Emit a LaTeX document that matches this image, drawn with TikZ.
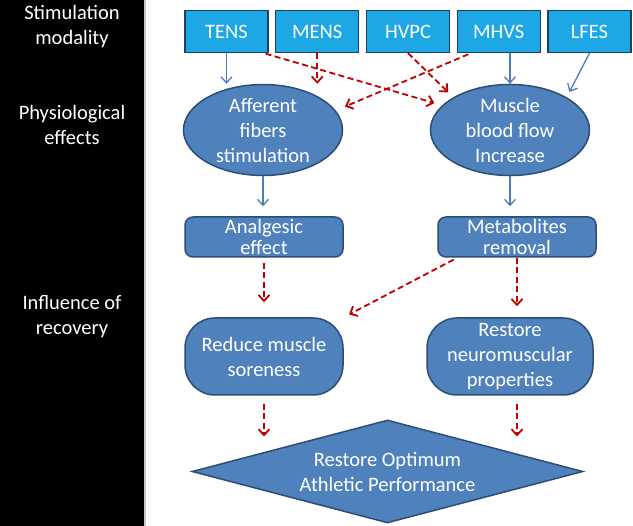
\documentclass[tikz,border=0pt]{standalone}
\usepackage{fontspec}
\setmainfont{Carlito}
\usetikzlibrary{shapes.geometric,arrows.meta}
\definecolor{modcyan}{HTML}{1DA7E5}
\definecolor{modedge}{HTML}{1F3F66}
\definecolor{effblue}{HTML}{4F81BD}
\definecolor{effedge}{HTML}{2C4D75}
\definecolor{linkblue}{HTML}{4A7EBB}
\definecolor{linkred}{HTML}{C00000}

\begin{document}
\begin{tikzpicture}[x=1pt, y=-1pt, node distance=90.75pt,
  font=\fontsize{20.5}{25}\selectfont,
  modbox/.style={draw=modedge, line width=1.2pt, fill=modcyan, text=white,
    minimum width=83pt, minimum height=42pt, inner sep=0pt},
  effoval/.style={ellipse, draw=effedge, line width=1.5pt, fill=effblue, text=white,
    align=center, minimum width=159pt, minimum height=90pt, inner sep=0pt},
  resbox/.style={draw=effedge, line width=1.5pt, fill=effblue, text=white, align=center,
    rounded corners=8pt, minimum width=158pt, minimum height=40pt, inner sep=0pt,
    font=\fontsize{20.5}{21}\selectfont},
  recbox/.style={draw=effedge, line width=1.5pt, fill=effblue, text=white, align=center,
    rounded corners=30pt, minimum height=77pt, inner sep=0pt},
  sidelabel/.style={text=white, align=center},
  bluelink/.style={draw=linkblue, line width=1.3pt, -{Straight Barb[length=6pt,width=11pt]}},
  redlink/.style={draw=linkred, line width=1.8pt, dash pattern=on 6pt off 3.5pt,
    -{Straight Barb[length=6pt,width=11pt]}}]
  \useasboundingbox (0,0) rectangle (633,526);

  % left band with the three levels
  \fill[black] (0,0) rectangle (144,526);
  \fill[gray!45] (144,0) rectangle (146,526);
  \node (L1) [sidelabel] at (72,27) {Stimulation\\modality};
  \node (L2) [sidelabel] at (72,125) {Physiological\\effects};
  \node (L3) [sidelabel] at (72,317) {Influence of\\recovery};

  % stimulation modalities
  \node (TENS) [modbox] at (226.5,31.5) {TENS};
  \node (MENS) [modbox, right of=TENS] {MENS};
  \node (HVPC) [modbox, right of=MENS] {HVPC};
  \node (MHVS) [modbox, right of=HVPC] {MHVS};
  \node (LFES) [modbox, right of=MHVS] {LFES};

  % physiological effects
  \node (Aff) [effoval] at (263,130) {Afferent\\fibers\\stimulation};
  \node (Mus) [effoval] at (510,130) {Muscle\\blood flow\\Increase};
  \node (Anal) [resbox] at (264,237) {Analgesic\\effect};
  \node (Metab) [resbox] at (517,237) {Metabolites\\removal};

  % recovery
  \node (Red) [recbox, minimum width=158pt] at (264,356.5) {Reduce muscle\\soreness};
  \node (Rest) [recbox, minimum width=166pt] at (510,356.5) {Restore\\neuromuscular\\properties};
  \node (Perf) [diamond, aspect=3.8, draw=effedge, line width=1.5pt, fill=effblue,
    text=white, align=center, minimum width=391pt, minimum height=103pt, inner sep=0pt]
    at (387.5,471.5) {Restore Optimum\\Athletic Performance};

  \draw[bluelink] (TENS) -- (TENS |- Aff.north);
  \draw[redlink] (MENS) -- (MENS |- Aff.north);
  \draw[redlink, shorten <=2pt, shorten >=8pt] ([xshift=-5pt]TENS.south east) -- (Mus.160);
  \draw[redlink, shorten >=7pt] (HVPC.south) -- (Mus.150);
  \draw[redlink, shorten <=3pt, shorten >=10pt] (MHVS.218) -- (Aff.15);
  \draw[bluelink] (Mus.north |- MHVS.south) -- (Mus.north);
  \draw[bluelink, shorten >=6pt] (LFES.south) -- (Mus.30);

  \draw[bluelink, shorten >=10pt] (Aff.south) -- (Aff.south |- Anal.north);
  \draw[bluelink, shorten >=10pt] (Mus.south) -- (Mus.south |- Metab.north);

  \draw[redlink, shorten <=5pt, shorten >=15pt] (Anal.south) -- (Anal.south |- Red.north);
  \draw[redlink, shorten >=11pt] (Metab.south) -- (Metab.south |- Rest.north);
  \draw[redlink, shorten <=4pt, shorten >=6pt] ([xshift=20pt]Metab.south west) -- (Red.north east);

  \draw[redlink, shorten <=8pt, shorten >=35pt] (Red.south) -- (Red.south |- Perf.west);
  \draw[redlink, shorten <=8pt, shorten >=35pt] ([xshift=7pt]Rest.south) -- ([xshift=7pt]Rest.south |- Perf.west);
\end{tikzpicture}
\end{document}
